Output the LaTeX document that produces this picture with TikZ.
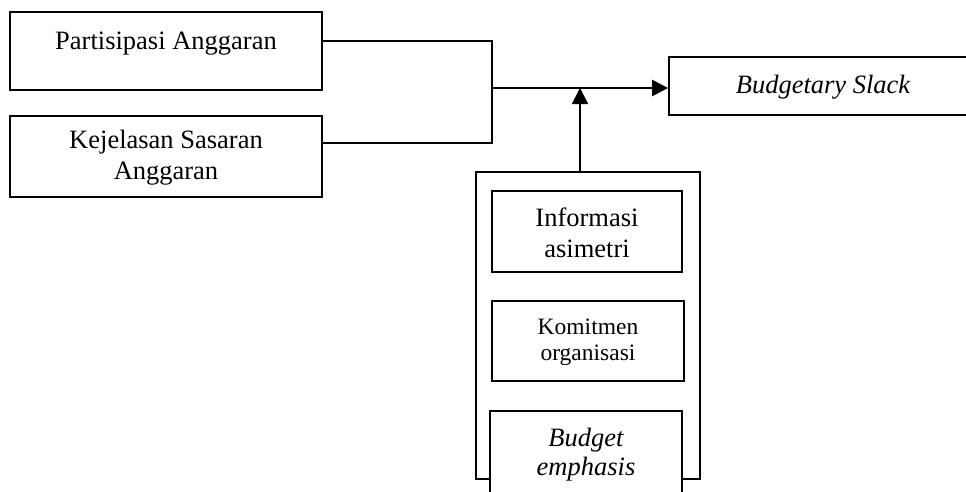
\documentclass[tikz,border=0pt]{standalone}
\usepackage{fontspec}
\setmainfont{Liberation Serif}
\usetikzlibrary{arrows.meta}
\newcommand{\upstrut}{\rule{0pt}{21pt}}
\begin{document}
\begin{tikzpicture}[x=1pt,y=-1pt,
  box/.style={draw, line width=1.7pt, fill=white, rectangle, inner sep=0pt, align=center,
    font=\fontsize{26.5}{31}\selectfont},
  conn/.style={line width=1.7pt},
  arr/.style={line width=2pt, -{Triangle[length=16pt,width=16pt]}}]
\useasboundingbox (0,0) rectangle (966,491);
% outer moderator frame
\node[draw, line width=1.7pt, rectangle, inner sep=0pt, minimum width=224, minimum height=307] (mod) at (588,325.5) {};
% left boxes
\node[box, minimum width=312, minimum height=78] (pa) at (166,51) {Partisipasi Anggaran\\[-10pt]\mbox{}};
\node[box, minimum width=312, minimum height=81] (kj) at (166,156.5) {\upstrut Kejelasan Sasaran\\Anggaran};
% dependent
\node[box, minimum width=308, minimum height=58] (bs) at (823,86) {\upstrut\itshape Budgetary Slack};
% moderators
\node[box, minimum width=190, minimum height=81] (ia) at (587,231.5) {\upstrut Informasi\\asimetri};
\node[box, minimum width=192, minimum height=80, font=\fontsize{23.5}{26}\selectfont] (ko) at (588,341) {\rule{0pt}{19pt}Komitmen\\organisasi};
\node[box, minimum width=192, minimum height=84, font=\fontsize{26.5}{29}\selectfont\itshape] (be) at (586,453) {\upstrut Budget\\emphasis};
% junctions
\coordinate (j1) at (492,41);
\coordinate (j2) at (492,143);
\coordinate (j3) at (492,88);
\coordinate (t) at (580,88);
\draw[conn] (pa.east |- j1) -- (j1) -- (j2) -- (kj.east |- j2);
\draw[arr] (j3) -- (bs.west |- j3);
\draw[arr] (mod.north -| t) -- (t);
\end{tikzpicture}
\end{document}
